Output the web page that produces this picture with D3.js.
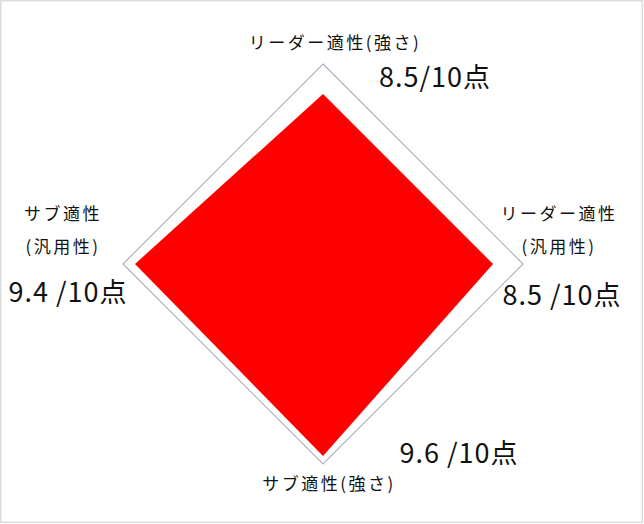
<!DOCTYPE html>
<html>
<head>
<meta charset="utf-8">
<script src="https://cdn.jsdelivr.net/npm/d3@7"></script>
<style>
  body { margin: 0; background: #fff; }
  text { font-family: "Noto Sans CJK JP", "Noto Sans", sans-serif; fill: #111; }
</style>
</head>
<body>
<div id="chart"></div>
<script>
// axes go clockwise from the top
var categories = [
  ["リーダー適性(強さ)"],
  ["リーダー適性", "(汎用性)"],
  ["サブ適性(強さ)"],
  ["サブ適性", "(汎用性)"]
];
var values = [8.5, 8.5, 9.6, 9.4];
var scoreLabels = ["8.5/10点", "8.5 /10点", "9.6 /10点", "9.4 /10点"];
var maxValue = 10;

var W = 644, H = 524,
    cx = 323, cy = 264, R = 200;

var svg = d3.select("#chart").append("svg")
  .attr("width", W)
  .attr("height", H);

// frame round the picture
svg.append("rect")
  .attr("x", 0.75).attr("y", 0.75)
  .attr("width", W - 2.5).attr("height", H - 2.5)
  .attr("fill", "#fff")
  .attr("stroke", "#dcdcdc")
  .attr("stroke-width", 1.5);

var g = svg.append("g")
  .attr("transform", "translate(" + cx + "," + cy + ")");

var r = d3.scaleLinear().domain([0, maxValue]).range([0, R]);
var angle = d3.scaleLinear().domain([0, categories.length]).range([0, 2 * Math.PI]);

var radial = d3.lineRadial()
  .angle(function(d) { return d.a; })
  .radius(function(d) { return d.r; })
  .curve(d3.curveLinearClosed);

// outer grid
g.append("path")
  .attr("d", radial(categories.map(function(c, i) {
    return {a: angle(i), r: r(maxValue)};
  })))
  .attr("fill", "none")
  .attr("stroke", "#a9b1be")
  .attr("stroke-width", 1.2);

// data area
g.append("path")
  .attr("d", radial(values.map(function(v, i) {
    return {a: angle(i), r: r(v)};
  })))
  .attr("fill", "#ff0000")
  .attr("stroke", "none");

// category labels
var labelPos = [
  {x: 12, y: -215},
  {x: 236, y: -44},
  {x: 6, y: 226},
  {x: -260, y: -44}
];
categories.forEach(function(lines, i) {
  var t = g.append("text")
    .attr("x", labelPos[i].x)
    .attr("y", labelPos[i].y)
    .attr("text-anchor", "middle")
    .style("font-size", "17px")
    .style("letter-spacing", "2.5px");
  lines.forEach(function(s, j) {
    t.append("tspan")
      .attr("x", labelPos[i].x)
      .attr("dy", j === 0 ? 0 : 33)
      .text(s);
  });
});

// score labels
var scorePos = [
  {x: 112, y: -177},
  {x: 239, y: 41},
  {x: 136, y: 199},
  {x: -255, y: 38}
];
scoreLabels.forEach(function(s, i) {
  g.append("text")
    .attr("x", scorePos[i].x)
    .attr("y", scorePos[i].y)
    .attr("text-anchor", "middle")
    .style("font-size", "27px")
    .style("letter-spacing", "1px")
    .text(s);
});
</script>
</body>
</html>
